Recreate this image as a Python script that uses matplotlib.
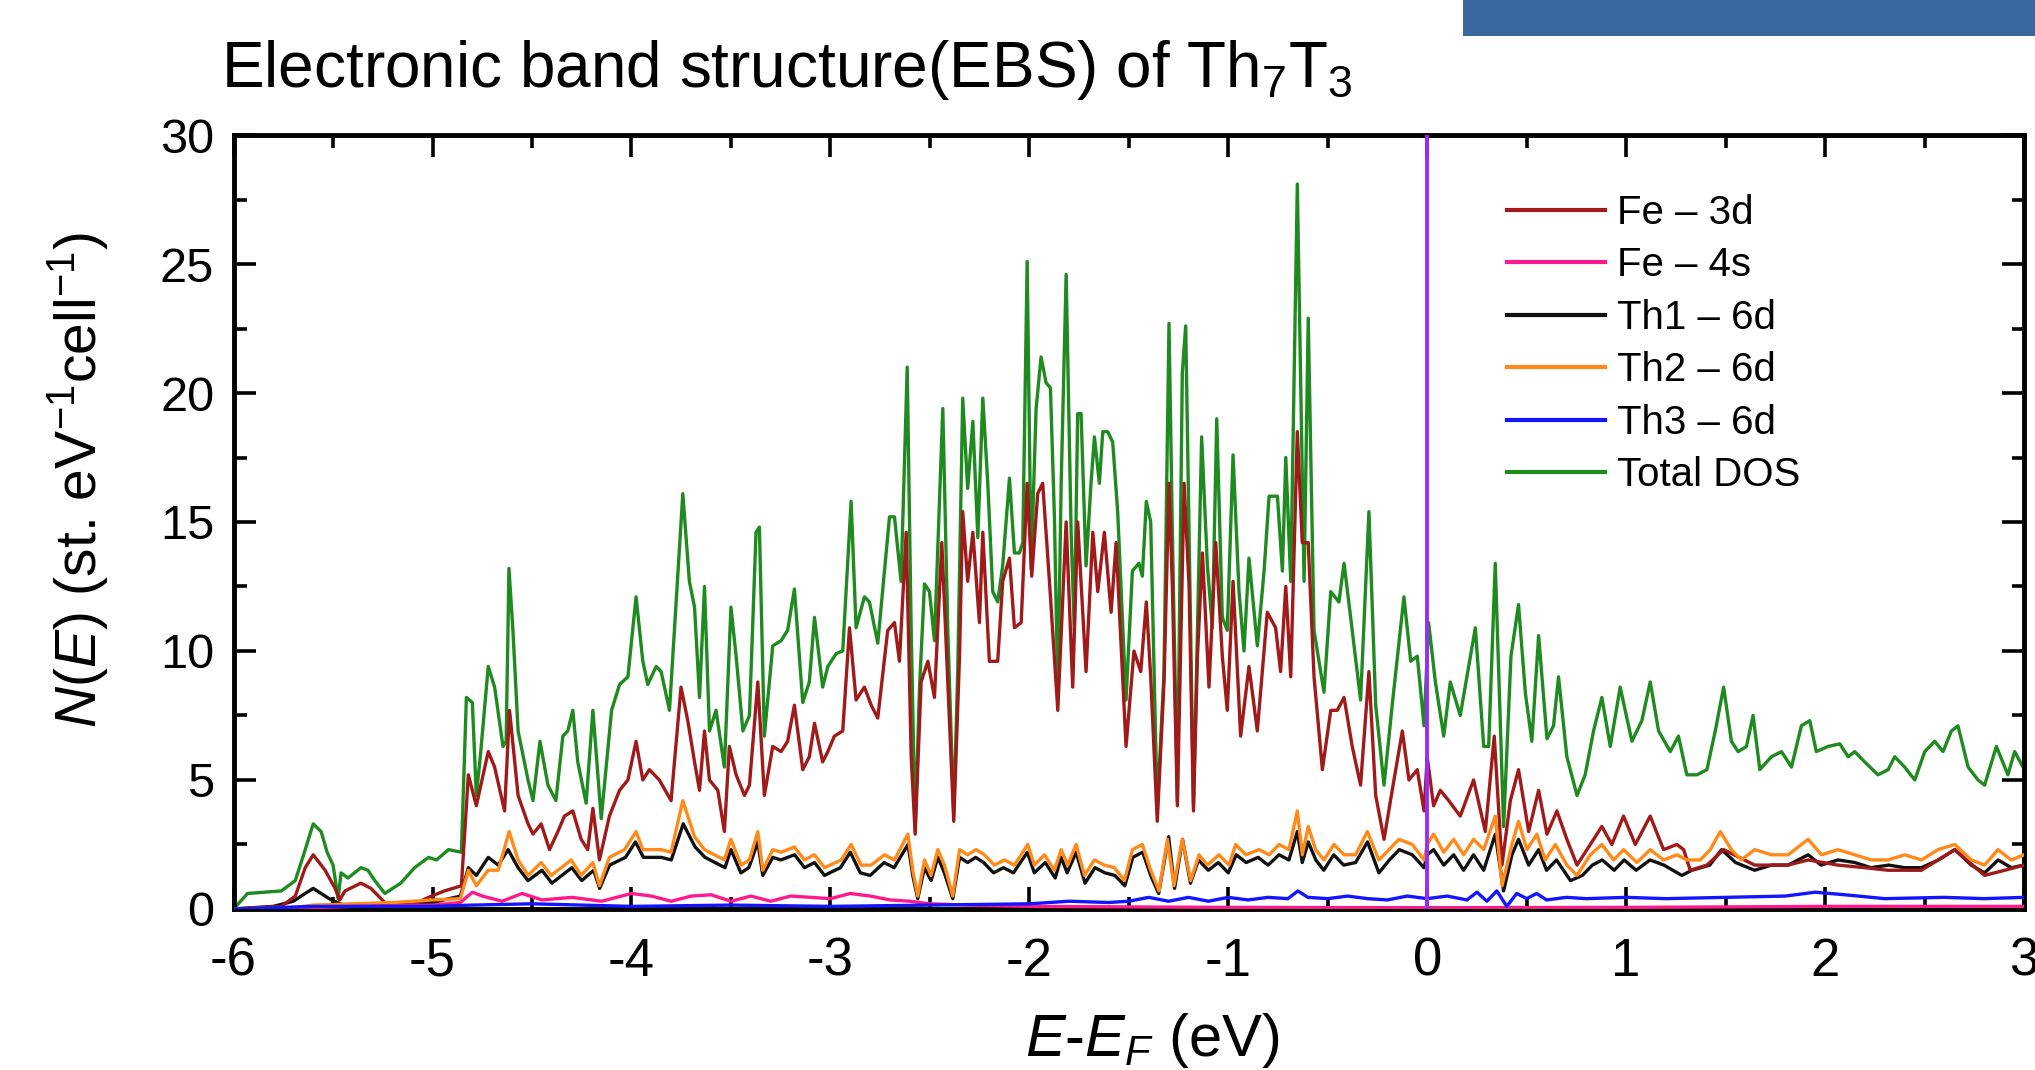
import matplotlib
matplotlib.use("Agg")
import matplotlib.pyplot as plt
from matplotlib.patches import Rectangle
from matplotlib.ticker import MultipleLocator

plt.rcParams['font.family'] = ['Liberation Sans', 'DejaVu Sans']
plt.rcParams['mathtext.fontset'] = 'custom'
plt.rcParams['mathtext.rm'] = 'Liberation Sans'
plt.rcParams['mathtext.it'] = 'Liberation Sans:italic'
plt.rcParams['axes.unicode_minus'] = False

# Total DOS (energy in eV, states per eV per cell)
total_e = [-6.0, -5.93, -5.76, -5.69, -5.64, -5.60, -5.56, -5.53, -5.50, -5.475, -5.46, -5.425,
           -5.36, -5.325, -5.29, -5.24, -5.16, -5.09, -5.02, -4.98, -4.92, -4.855, -4.83, -4.80,
           -4.78, -4.76, -4.72, -4.688, -4.646, -4.63, -4.616, -4.596, -4.57, -4.52, -4.495, -4.46,
           -4.42, -4.38, -4.345, -4.32, -4.295, -4.27, -4.228, -4.194, -4.152, -4.10, -4.06, -4.018,
           -3.977, -3.943, -3.918, -3.876, -3.851, -3.809, -3.742, -3.709, -3.683, -3.658, -3.633,
           -3.608, -3.575, -3.533, -3.50, -3.474, -3.44, -3.407, -3.374, -3.357, -3.332, -3.29,
           -3.248, -3.215, -3.181, -3.139, -3.106, -3.08, -3.039, -3.013, -2.971, -2.938, -2.896,
           -2.871, -2.829, -2.804, -2.762, -2.703, -2.678, -2.645, -2.614, -2.594, -2.574, -2.552,
           -2.527, -2.502, -2.477, -2.435, -2.41, -2.38, -2.36, -2.335, -2.31, -2.284, -2.259,
           -2.234, -2.209, -2.184, -2.159, -2.134, -2.10, -2.075, -2.05, -2.033, -2.011, -1.991,
           -1.966, -1.941, -1.916, -1.894, -1.874, -1.857, -1.84, -1.815, -1.79, -1.774, -1.757,
           -1.74, -1.715, -1.69, -1.673, -1.648, -1.631, -1.606, -1.581, -1.556, -1.514, -1.482,
           -1.449, -1.432, -1.412, -1.39, -1.357, -1.323, -1.298, -1.281, -1.256, -1.231, -1.214,
           -1.197, -1.175, -1.155, -1.134, -1.105, -1.08, -1.058, -1.03, -1.005, -0.976, -0.946,
           -0.921, -0.896, -0.854, -0.82, -0.795, -0.753, -0.728, -0.711, -0.686, -0.653, -0.619,
           -0.598, -0.569, -0.519, -0.485, -0.444, -0.418, -0.377, -0.335, -0.293, -0.259, -0.217,
           -0.176, -0.117, -0.083, -0.05, -0.016, 0.007, 0.041, 0.083, 0.116, 0.166, 0.242, 0.284,
           0.309, 0.342, 0.384, 0.421, 0.459, 0.493, 0.526, 0.56, 0.602, 0.635, 0.66, 0.702, 0.753,
           0.794, 0.836, 0.878, 0.92, 0.97, 1.029, 1.079, 1.121, 1.163, 1.222, 1.263, 1.305, 1.356,
           1.406, 1.448, 1.49, 1.529, 1.563, 1.605, 1.638, 1.672, 1.73, 1.781, 1.831, 1.881, 1.923,
           1.956, 2.015, 2.074, 2.116, 2.149, 2.199, 2.266, 2.317, 2.35, 2.40, 2.451, 2.501, 2.551,
           2.593, 2.635, 2.668, 2.719, 2.769, 2.802, 2.861, 2.919, 2.953, 2.995, 3.0]
total_n = [0.0, 0.6, 0.7, 1.1, 2.3, 3.3, 3.0, 2.2, 1.7, 0.4, 1.4, 1.2,
           1.6, 1.5, 1.1, 0.6, 1.0, 1.6, 2.0, 1.9, 2.3, 2.2, 8.2, 8.0,
           4.4, 5.9, 9.4, 8.6, 6.3, 6.5, 13.2, 10.8, 6.9, 5.0, 4.2, 6.5,
           4.8, 4.2, 6.7, 6.9, 7.7, 5.7, 4.1, 7.7, 3.5, 7.7, 8.7, 9.0,
           12.1, 9.6, 8.7, 9.4, 9.2, 7.7, 16.1, 12.7, 11.7, 8.2, 12.5,
           6.9, 7.7, 5.5, 11.7, 9.8, 6.9, 7.5, 14.6, 14.8, 6.7, 10.2,
           10.4, 10.8, 12.4, 8.0, 8.8, 11.3, 8.6, 9.4, 9.9, 10.0, 15.8,
           10.9, 12.1, 11.9, 10.3, 15.2, 15.2, 12.7, 21.0, 10.8, 3.1, 8.6,
           12.6, 12.3, 10.4, 19.4, 10.8, 3.6, 9.2, 19.8, 16.3, 18.9, 14.4,
           19.8, 16.5, 12.3, 11.9, 13.3, 16.7, 13.8, 13.8, 14.2, 25.1, 13.2,
           19.4, 21.4, 20.4, 20.2, 15.2, 8.3, 16.5, 24.6, 14.6, 10.8, 19.2,
           19.2, 13.3, 16.5, 18.3, 16.5, 18.5, 18.5, 18.1, 15.4, 8.1, 13.1,
           13.4, 12.9, 15.8, 15.0, 3.8, 9.2, 22.7, 14.6, 4.2, 20.8, 22.6,
           14.6, 4.0, 10.8, 18.3, 13.3, 10.9, 19.0, 11.3, 10.8, 17.6, 12.3,
           10.0, 13.6, 10.2, 13.1, 16.0, 16.0, 13.1, 17.5, 12.7, 28.1, 12.7,
           22.9, 10.8, 8.4, 12.3, 11.9, 13.4, 10.8, 8.1, 15.4, 7.9, 4.8,
           7.9, 12.1, 9.6, 9.8, 7.1, 11.1, 8.8, 6.7, 8.8, 7.5, 10.9, 6.3,
           6.3, 13.4, 3.2, 9.8, 11.8, 8.4, 6.5, 10.6, 6.6, 7.1, 9.0, 5.9, 4.4,
           5.2, 6.9, 8.2, 6.3, 8.6, 6.5, 7.3, 8.8, 6.9, 6.1, 6.7, 5.2, 5.2,
           5.4, 6.9, 8.6, 6.5, 6.1, 6.3, 7.5, 5.4, 5.9, 6.1, 5.5, 7.1, 7.3,
           6.1, 6.3, 6.4, 5.9, 6.1, 5.7, 5.2, 5.4, 5.9, 5.5, 5.0, 6.1, 6.5,
           6.1, 6.9, 7.1, 5.5, 5.0, 4.8, 6.3, 5.2, 6.1, 5.5, 6.0]

# Fe - 3d
fe3d_e = [-6.0, -5.76, -5.69, -5.64, -5.60, -5.54, -5.49, -5.467, -5.44, -5.36, -5.31, -5.24,
          -5.107, -5.02, -4.94, -4.855, -4.82, -4.78, -4.72, -4.688, -4.638, -4.613, -4.57, -4.52,
          -4.495, -4.454, -4.412, -4.37, -4.337, -4.295, -4.253, -4.22, -4.194, -4.161, -4.111,
          -4.06, -4.018, -3.977, -3.943, -3.91, -3.86, -3.801, -3.751, -3.717, -3.683, -3.658,
          -3.633, -3.608, -3.566, -3.533, -3.508, -3.474, -3.432, -3.407, -3.365, -3.332, -3.29,
          -3.248, -3.215, -3.181, -3.139, -3.106, -3.08, -3.039, -3.013, -2.98, -2.938, -2.904,
          -2.871, -2.829, -2.795, -2.762, -2.712, -2.678, -2.653, -2.619, -2.594, -2.574, -2.544,
          -2.51, -2.477, -2.44, -2.41, -2.38, -2.351, -2.335, -2.31, -2.284, -2.251, -2.234,
          -2.201, -2.159, -2.134, -2.10, -2.075, -2.041, -2.011, -1.988, -1.958, -1.933, -1.899,
          -1.857, -1.815, -1.782, -1.757, -1.715, -1.681, -1.656, -1.623, -1.589, -1.564, -1.514,
          -1.474, -1.44, -1.412, -1.39, -1.357, -1.323, -1.298, -1.281, -1.256, -1.222, -1.197,
          -1.175, -1.155, -1.13, -1.097, -1.063, -1.03, -1.005, -0.976, -0.938, -0.896, -0.854,
          -0.804, -0.762, -0.737, -0.711, -0.686, -0.653, -0.628, -0.598, -0.569, -0.527, -0.485,
          -0.452, -0.418, -0.377, -0.335, -0.293, -0.259, -0.217, -0.176, -0.125, -0.092, -0.05,
          -0.016, 0.0, 0.032, 0.066, 0.108, 0.166, 0.233, 0.292, 0.337, 0.376, 0.418, 0.459, 0.51,
          0.56, 0.602, 0.652, 0.702, 0.753, 0.82, 0.878, 0.928, 0.987, 1.046, 1.121, 1.188, 1.255,
          1.289, 1.322, 1.406, 1.49, 1.646, 1.814, 1.915, 2.065, 2.20, 2.317, 2.484, 2.652, 2.802,
          2.903, 3.0]
fe3d_n = [0.0, 0.1, 0.5, 1.6, 2.1, 1.5, 0.8, 0.35, 0.7, 1.0, 0.8, 0.25,
          0.15, 0.45, 0.7, 0.9, 5.2, 4.0, 6.1, 5.5, 3.8, 7.7, 4.4, 3.3,
          2.9, 3.3, 2.3, 3.0, 3.6, 3.8, 2.7, 2.3, 3.9, 1.9, 3.6,
          4.6, 5.0, 6.5, 5.0, 5.4, 5.0, 4.2, 8.6, 7.3, 5.7, 4.6,
          6.9, 5.0, 4.6, 3.0, 6.3, 5.2, 4.4, 4.8, 8.8, 4.4, 6.3,
          6.1, 6.5, 7.9, 5.4, 5.9, 7.2, 5.7, 6.1, 6.7, 6.9, 10.9,
          8.1, 8.6, 7.9, 7.4, 10.8, 11.1, 9.6, 14.6, 5.9, 2.9, 8.8,
          9.6, 8.2, 14.2, 8.8, 3.4, 9.8, 15.4, 12.7, 14.6, 11.1, 14.6,
          9.6, 9.6, 12.7, 13.6, 10.9, 11.1, 16.5, 12.9, 16.1, 16.5, 12.7,
          7.7, 15.0, 8.6, 15.0, 9.2, 14.6, 12.3, 14.6, 11.5, 14.2, 6.3,
          10.0, 9.2, 11.9, 9.0, 3.4, 8.8, 16.5, 12.5, 4.0, 16.5, 12.5,
          3.8, 9.8, 13.8, 8.6, 14.2, 9.8, 7.7, 12.7, 6.7, 9.4, 6.9,
          11.5, 10.9, 9.2, 12.5, 9.0, 18.5, 14.2, 14.2, 9.0, 5.4, 7.7,
          7.7, 8.2, 6.3, 4.8, 9.2, 4.4, 2.7, 4.6, 6.9, 5.0, 5.4,
          3.8, 5.9, 4.0, 4.6, 4.2, 3.6, 5.0, 3.0, 6.7, 1.7, 4.2, 5.4, 3.0,
          4.6, 2.9, 3.8, 2.7, 1.7, 2.5, 3.2, 2.5, 3.6, 2.5, 3.6, 2.3, 2.5,
          2.3, 1.5, 1.7, 2.3, 1.7, 1.7, 1.9, 1.7, 1.6, 1.5, 1.5, 2.3, 1.3,
          1.5, 1.7]

# Fe - 4s
fe4s_e = [-6.0, -5.6, -5.4, -5.0, -4.86, -4.8, -4.75, -4.65, -4.55, -4.45, -4.3, -4.15, -4.0,
          -3.9, -3.8, -3.7, -3.6, -3.5, -3.4, -3.3, -3.2, -3.1, -3.0, -2.9, -2.8, -2.7, -2.6,
          -2.5, -2.3, -2.0, -1.5, -1.0, 0.0, 1.0, 2.0, 3.0]
fe4s_n = [0.0, 0.05, 0.1, 0.15, 0.25, 0.65, 0.5, 0.3, 0.6, 0.35, 0.45, 0.3, 0.6,
          0.5, 0.3, 0.5, 0.55, 0.3, 0.5, 0.3, 0.5, 0.45, 0.4, 0.6, 0.5, 0.35, 0.3,
          0.2, 0.15, 0.1, 0.08, 0.06, 0.05, 0.06, 0.1, 0.1]

# Th1 - 6d
th1_e = [-6.0, -5.8, -5.7, -5.6, -5.52, -5.45, -5.3, -5.1, -5.0, -4.86, -4.82, -4.78, -4.72,
         -4.67, -4.62, -4.57, -4.52, -4.45, -4.4, -4.35, -4.3, -4.25, -4.19, -4.16, -4.11, -4.03,
         -3.98, -3.94, -3.85, -3.8, -3.74, -3.68, -3.63, -3.58, -3.53, -3.5, -3.45, -3.41,
         -3.365, -3.34, -3.29, -3.25, -3.18, -3.13, -3.08, -3.03, -2.95, -2.9, -2.85, -2.8,
         -2.73, -2.68, -2.61, -2.586, -2.561, -2.527, -2.494, -2.46, -2.427, -2.385, -2.351,
         -2.31, -2.27, -2.23, -2.18, -2.13, -2.08, -2.01, -1.975, -1.92, -1.87, -1.84, -1.81,
         -1.765, -1.72, -1.67, -1.62, -1.57, -1.52, -1.48, -1.43, -1.39, -1.35, -1.3, -1.27,
         -1.23, -1.19, -1.15, -1.1, -1.05, -1.0, -0.96, -0.91, -0.85, -0.8, -0.745, -0.695,
         -0.653, -0.628, -0.598, -0.56, -0.52, -0.47, -0.42, -0.36, -0.3, -0.243, -0.19, -0.14,
         -0.075, -0.016, 0.0, 0.032, 0.083, 0.133, 0.183, 0.233, 0.284, 0.342, 0.384, 0.426,
         0.459, 0.51, 0.56, 0.60, 0.65, 0.72, 0.78, 0.83, 0.88, 0.94, 0.99, 1.05, 1.12, 1.19,
         1.28, 1.33, 1.42, 1.48, 1.55, 1.646, 1.73, 1.814, 1.915, 1.98, 2.065, 2.15, 2.23, 2.32,
         2.40, 2.484, 2.57, 2.652, 2.735, 2.802, 2.87, 2.936, 3.0]
th1_n = [0.0, 0.1, 0.3, 0.8, 0.4, 0.15, 0.2, 0.15, 0.25, 0.5, 1.6, 1.3, 2.0,
         1.7, 2.3, 1.6, 1.1, 1.5, 1.0, 1.3, 1.6, 1.1, 1.5, 0.8, 1.7, 2.0,
         2.6, 2.0, 2.0, 1.9, 3.3, 2.4, 2.0, 1.8, 1.6, 2.3, 1.4, 1.6,
         2.6, 1.3, 2.0, 1.9, 2.1, 1.6, 1.8, 1.3, 1.6, 2.2, 1.4, 1.3,
         1.8, 1.6, 2.5, 1.3, 0.4, 1.6, 1.1, 2.0, 1.4, 0.4, 2.0,
         1.8, 2.0, 1.8, 1.4, 1.6, 1.4, 2.2, 1.4, 1.8, 1.2, 2.0, 1.4,
         2.2, 1.0, 1.6, 1.4, 1.3, 0.9, 2.0, 2.2, 1.3, 0.6, 2.8, 0.8,
         2.7, 1.0, 1.9, 1.5, 1.8, 1.4, 2.1, 1.8, 2.0, 1.7, 2.1, 1.9,
         3.0, 1.8, 2.6, 1.9, 1.5, 2.1, 1.7, 1.8, 2.6, 1.4, 1.9, 2.3,
         2.1, 1.6, 2.1, 2.3, 1.7, 2.1, 1.5, 2.1, 1.5, 2.9, 0.7, 2.1,
         2.7, 1.7, 2.3, 1.5, 1.9, 1.1, 1.3, 1.7, 1.9, 1.5, 1.9, 1.5, 1.9, 1.7,
         1.3, 1.5, 1.7, 2.3, 1.8, 1.5, 1.7, 1.7, 2.1, 1.7, 1.9, 1.8, 1.6, 1.7,
         1.6, 1.6, 1.9, 2.3, 1.7, 1.4, 1.9, 1.6, 1.7]

# Th2 - 6d
th2_e = [-6.0, -5.7, -5.6, -5.4, -5.2, -5.0, -4.86, -4.82, -4.78, -4.72, -4.67, -4.615, -4.57,
         -4.52, -4.454, -4.404, -4.353, -4.303, -4.253, -4.194, -4.161, -4.111, -4.035, -3.977,
         -3.943, -3.851, -3.801, -3.742, -3.683, -3.633, -3.583, -3.533, -3.50, -3.449, -3.407,
         -3.365, -3.34, -3.29, -3.248, -3.181, -3.131, -3.08, -3.03, -2.946, -2.896, -2.846,
         -2.795, -2.728, -2.678, -2.611, -2.586, -2.561, -2.527, -2.494, -2.46, -2.427, -2.385,
         -2.351, -2.31, -2.268, -2.226, -2.176, -2.125, -2.075, -2.008, -1.975, -1.924, -1.874,
         -1.84, -1.807, -1.765, -1.723, -1.673, -1.623, -1.572, -1.522, -1.482, -1.432, -1.39,
         -1.348, -1.306, -1.273, -1.231, -1.189, -1.147, -1.105, -1.047, -0.996, -0.963, -0.912,
         -0.845, -0.795, -0.745, -0.695, -0.653, -0.628, -0.598, -0.561, -0.519, -0.469, -0.418,
         -0.36, -0.301, -0.243, -0.192, -0.142, -0.075, -0.016, 0.0, 0.032, 0.083, 0.133, 0.183,
         0.233, 0.284, 0.342, 0.376, 0.426, 0.459, 0.501, 0.551, 0.593, 0.644, 0.702, 0.753,
         0.82, 0.878, 0.937, 0.987, 1.054, 1.121, 1.188, 1.255, 1.305, 1.372, 1.423, 1.473,
         1.529, 1.579, 1.646, 1.73, 1.814, 1.915, 1.982, 2.065, 2.149, 2.233, 2.317, 2.40,
         2.484, 2.568, 2.652, 2.735, 2.802, 2.869, 2.936, 3.0]
th2_n = [0.0, 0.05, 0.15, 0.2, 0.25, 0.35, 0.4, 1.5, 0.9, 1.5, 1.5, 3.0, 1.9,
         1.3, 1.8, 1.3, 1.6, 1.9, 1.3, 1.8, 0.9, 2.0, 2.3, 3.0,
         2.3, 2.3, 2.2, 4.2, 2.8, 2.3, 2.1, 1.9, 2.7, 1.7, 1.9,
         3.0, 1.5, 2.3, 2.2, 2.4, 1.9, 2.1, 1.6, 1.9, 2.5, 1.7,
         1.7, 2.1, 1.9, 2.9, 1.5, 0.5, 1.9, 1.3, 2.3, 1.7, 0.5,
         2.3, 2.1, 2.3, 2.1, 1.7, 1.9, 1.7, 2.5, 1.7, 2.1, 1.5,
         2.3, 1.7, 2.5, 1.3, 1.9, 1.7, 1.6, 1.1, 2.3, 2.5, 1.5,
         0.7, 2.7, 0.9, 2.7, 1.1, 2.1, 1.7, 2.1, 1.7, 2.5, 2.1,
         2.3, 2.1, 2.5, 2.3, 3.8, 2.1, 3.2, 2.3, 1.9, 2.5, 2.1,
         2.1, 3.0, 1.9, 2.3, 2.7, 2.5, 1.9, 2.5, 2.9, 2.2, 2.7, 2.1,
         2.7, 2.3, 3.6, 0.9, 2.5, 3.4, 2.3, 2.9, 1.9, 2.5, 1.7, 1.3,
         2.1, 2.5, 1.9, 2.3, 1.8, 2.3, 1.9, 2.1, 1.9, 1.9, 2.3, 3.0,
         2.3, 1.9, 2.3, 2.1, 2.1, 2.7, 2.1, 2.3, 2.1, 1.9, 1.9, 2.1,
         1.9, 2.3, 2.5, 1.9, 1.7, 2.3, 1.9, 2.1]

# Th3 - 6d
th3_e = [-6.0, -5.6, -5.0, -4.8, -4.5, -4.0, -3.5, -3.0, -2.5, -2.0, -1.8, -1.6, -1.5, -1.4,
         -1.3, -1.2, -1.1, -1.0, -0.9, -0.8, -0.7, -0.65, -0.6, -0.5, -0.4, -0.3, -0.2, -0.1,
         0.0, 0.1, 0.2, 0.25, 0.3, 0.35, 0.4, 0.45, 0.5, 0.55, 0.6, 0.7, 0.8, 1.0, 1.2, 1.5,
         1.8, 1.95, 2.1, 2.3, 2.6, 2.8, 3.0]
th3_n = [0.0, 0.1, 0.1, 0.15, 0.2, 0.1, 0.15, 0.1, 0.15, 0.2, 0.3, 0.25, 0.3, 0.45,
         0.3, 0.45, 0.3, 0.45, 0.35, 0.45, 0.4, 0.7, 0.45, 0.4, 0.5, 0.4, 0.35, 0.5,
         0.4, 0.5, 0.35, 0.65, 0.3, 0.7, 0.1, 0.6, 0.4, 0.6, 0.35, 0.45, 0.4, 0.45, 0.4, 0.45,
         0.5, 0.65, 0.55, 0.4, 0.45, 0.4, 0.45]

series_labels = ["Fe – 3d", "Fe – 4s", "Th1 – 6d", "Th2 – 6d", "Th3 – 6d", "Total DOS"]
series_colors = ["#a01a1a", "#ff1a8c", "#111111", "#ff8a1a", "#1414ff", "#1f8a1f"]

x_ticks = [-6, -5, -4, -3, -2, -1, 0, 1, 2, 3]
y_ticks = [0, 5, 10, 15, 20, 25, 30]


def draw_curves(ax):
    '''One line for each partial DOS plus the total, in legend order'''
    data = [(fe3d_e, fe3d_n), (fe4s_e, fe4s_n), (th1_e, th1_n),
            (th2_e, th2_n), (th3_e, th3_n), (total_e, total_n)]
    zorders = [4, 5, 3, 4.5, 6, 2]   # total behind, small ones on top
    for (e, n), label, color, z in zip(data, series_labels, series_colors, zorders):
        ax.plot(e, n, color=color, lw=2.4, label=label, zorder=z, solid_joinstyle='round')
    ax.axvline(0, color="#9a2cf5", lw=2.8, zorder=7)   # Fermi level


def set_axes(ax):
    ax.set_xlim(-6, 3)
    ax.set_ylim(0, 30)
    ax.set_xticks(x_ticks)
    ax.set_yticks(y_ticks)
    ax.xaxis.set_minor_locator(MultipleLocator(0.5))
    ax.yaxis.set_minor_locator(MultipleLocator(2.5))
    ax.tick_params(which='both', direction='in', top=True, right=True, width=2.6)
    ax.tick_params(which='major', length=16)
    ax.tick_params(which='minor', length=9)
    ax.tick_params(axis='x', labelsize=38, pad=20)
    ax.tick_params(axis='y', labelsize=35, pad=14)
    for spine in ax.spines.values():
        spine.set_linewidth(3.5)

    ax.set_xlabel(r"$E$-$E_F$ (eV)", fontsize=43, va='center')
    ax.xaxis.set_label_coords(0.513, -0.17)
    ax.set_ylabel(r"$N$($E$) (st. eV$^{-1}$cell$^{-1}$)", fontsize=41, va='center')
    ax.yaxis.set_label_coords(-0.087, 0.554)

    leg = ax.legend(loc='upper left', bbox_to_anchor=(0.711, 0.924), frameon=False,
                    fontsize=29, handlelength=2.45, handletextpad=0.3,
                    labelspacing=0.36, borderpad=0, borderaxespad=0)
    for line in leg.get_lines():
        line.set_linewidth(3.0)


fig = plt.figure(figsize=(20.35, 10.7), dpi=100)
ax = fig.add_axes([0.1148, 0.1505, 0.8798, 0.7233])
draw_curves(ax)
set_axes(ax)

# title and the blue bar of the slide
fig.text(221 / 2035, 1 - 87 / 1070, "Electronic band structure(EBS) of Th$_7$T$_3$",
         fontsize=46, ha='left', va='baseline')
fig.add_artist(Rectangle((1463 / 2035, 1 - 36 / 1070), 572 / 2035, 36 / 1070,
                         transform=fig.transFigure, color="#3867a0", lw=0))

fig.savefig("out.png", dpi=100)
